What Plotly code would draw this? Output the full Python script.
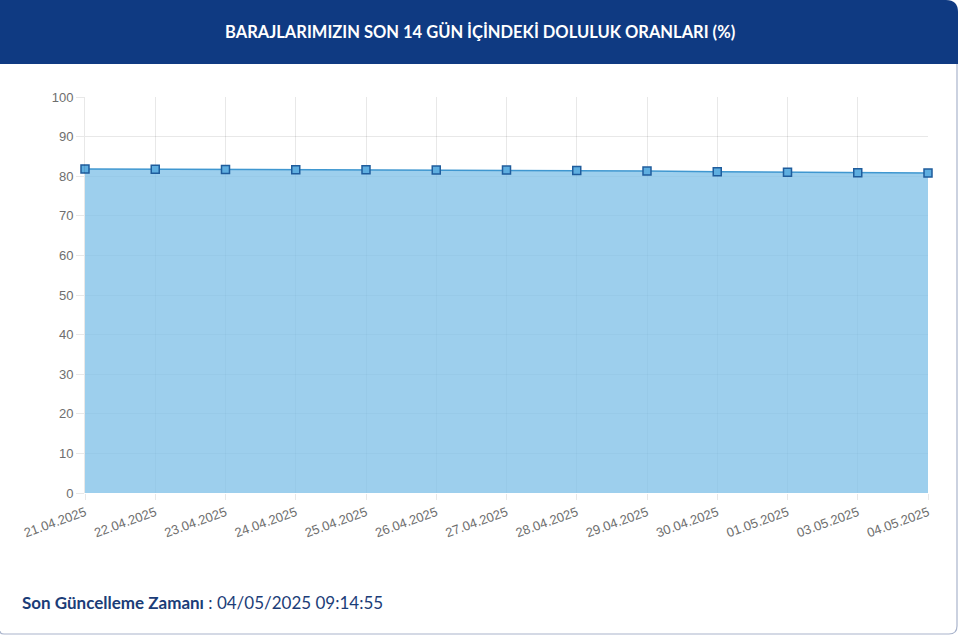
import plotly.graph_objects as go

dates = ["21.04.2025", "22.04.2025", "23.04.2025", "24.04.2025", "25.04.2025",
         "26.04.2025", "27.04.2025", "28.04.2025", "29.04.2025", "30.04.2025",
         "01.05.2025", "03.05.2025", "04.05.2025"]
values = [81.82, 81.76, 81.70, 81.66, 81.62, 81.58, 81.54, 81.46, 81.30, 81.14,
          80.98, 80.89, 80.80]
y_ticks = [0, 10, 20, 30, 40, 50, 60, 70, 80, 90, 100]

title_text = "BARAJLARIMIZIN SON 14 GÜN İÇİNDEKİ DOLULUK ORANLARI (%)"
footer_label = "Son Güncelleme Zamanı"
footer_value = "04/05/2025 09:14:55"

W, H = 960, 637
L, R, T, B = 85, 32, 97, 144
PW, PH = W - L - R, H - T - B


def px(x):
    return (x - L) / PW


def py(y):
    return 1 - (y - T) / PH


fig = go.Figure()
fig.add_trace(go.Scatter(
    x=list(range(len(dates))), y=values, mode="lines+markers",
    fill="tozeroy", fillcolor="rgba(130,194,232,0.78)",
    line=dict(color="#3f97d0", width=1.5),
    marker=dict(symbol="square", size=8, color="#5eaee0",
                line=dict(color="#1f5c9c", width=1.5)),
    hoverinfo="x+y", cliponaxis=False,
))

# header band with rounded top corners
r = 12
x0, x1, y0, y1 = -2, 958, 0, 64
path = (f"M {px(x0)},{py(y1)} L {px(x0)},{py(y0)} L {px(x1 - r)},{py(y0)} "
        f"Q {px(x1)},{py(y0)} {px(x1)},{py(y0 + r)} L {px(x1)},{py(y1)} Z")
shapes = [
    dict(type="path", xref="paper", yref="paper", path=path,
         fillcolor="#0f3a82", line=dict(width=0), layer="below"),
]
# card border (right + bottom, rounded)
r2 = 8
bx0, bx1, by1 = 0, 957, 634
bpath = (f"M {px(bx1)},{py(y1)} L {px(bx1)},{py(by1 - r2)} "
         f"Q {px(bx1)},{py(by1)} {px(bx1 - r2)},{py(by1)} L {px(bx0 + 4)},{py(by1)} "
         f"Q {px(bx0)},{py(by1)} {px(bx0)},{py(by1 - 3)}")
shapes.append(dict(type="path", xref="paper", yref="paper", path=bpath,
                   line=dict(color="#a9b4cc", width=1.2), layer="below"))

annotations = [
    dict(xref="paper", yref="paper", x=px(480), y=py(32), text=f"<b>{title_text}</b>",
         showarrow=False, xanchor="center", yanchor="middle",
         font=dict(family="Lato", size=16.5, color="white")),
    dict(xref="paper", yref="paper", x=px(20), y=py(602),
         text=f"<b>{footer_label}</b> : {footer_value}",
         showarrow=False, xanchor="left", yanchor="middle",
         font=dict(family="Lato", size=17, color="#1b3d78")),
]

fig.update_layout(
    width=W, height=H, margin=dict(l=L, r=R, t=T, b=B),
    paper_bgcolor="white", plot_bgcolor="white",
    showlegend=False, shapes=shapes, annotations=annotations,
    xaxis=dict(tickmode="array", tickvals=list(range(len(dates))), ticktext=dates,
               range=[0, len(dates) - 1], tickangle=-20, showgrid=True,
               gridcolor="rgba(0,0,0,0.09)", zeroline=False, showline=False,
               ticks="outside", ticklen=6, tickcolor="rgba(0,0,0,0.09)",
               tickfont=dict(family="Liberation Sans, Arial", size=13, color="#6e6e6e")),
    yaxis=dict(range=[0, 100], tickvals=y_ticks, showgrid=True,
               gridcolor="rgba(0,0,0,0.09)", zeroline=False, showline=True,
               linecolor="rgba(0,0,0,0.09)", ticks="outside", ticklen=8,
               tickcolor="rgba(0,0,0,0.09)",
               tickfont=dict(family="Liberation Sans, Arial", size=13, color="#6e6e6e")),
)

fig.write_html("out.html", config={"displayModeBar": False},
               post_script="document.body.style.margin='0';document.body.style.overflow='hidden';")
